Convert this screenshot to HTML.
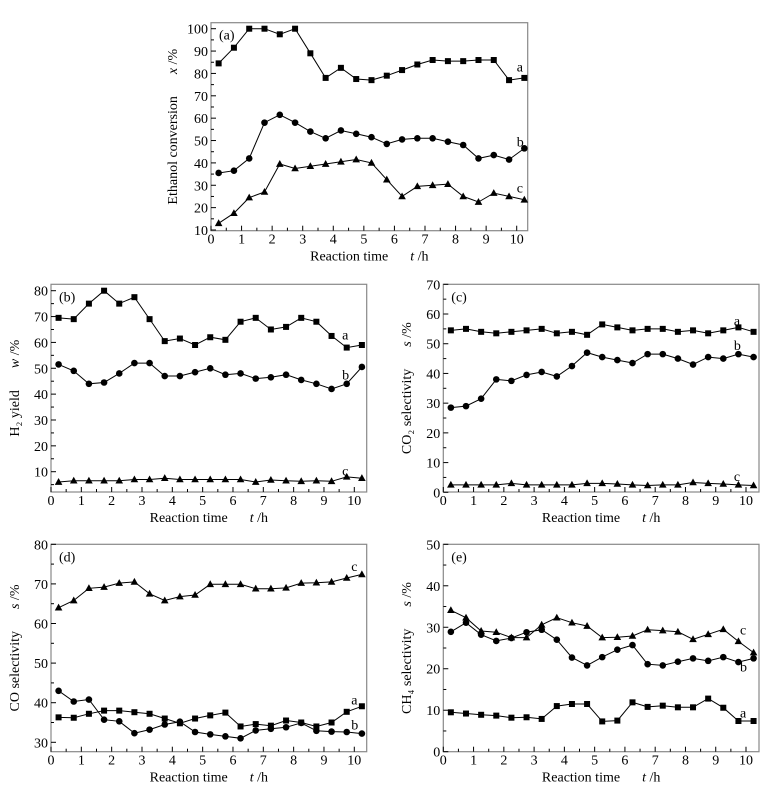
<!DOCTYPE html>
<html><head><meta charset="utf-8"><style>
html,body{margin:0;padding:0;background:#fff;}
svg{display:block;font-family:"Liberation Serif",serif;}
</style></head><body>
<svg id="fig" width="780" height="792" viewBox="0 0 780 792" xmlns="http://www.w3.org/2000/svg"></svg>
<script>
const times = [0.25,0.75,1.25,1.75,2.25,2.75,3.25,3.75,4.25,4.75,5.25,5.75,6.25,6.75,7.25,7.75,8.25,8.75,9.25,9.75,10.25];
const xTicks = [0,1,2,3,4,5,6,7,8,9,10];
const convA = [84.5,91.5,100,100,97.5,100,89,78,82.5,77.5,77,79,81.5,84,86,85.5,85.5,86,86,77,78];
const convB = [35.5,36.5,42,58,61.5,58,54,51,54.5,53,51.5,48.5,50.5,51,51,49.5,48,42,43.5,41.5,46.5];
const convC = [13,17.5,24.5,27,39.5,37.5,38.5,39.5,40.5,41.5,40,32.5,25,29.5,30,30.5,25,22.5,26.5,25,23.5];
const h2A = [69.5,69,75,80,75,77.5,69,60.5,61.5,59,62,61,68,69.5,65,66,69.5,68,62.5,58,59];
const h2B = [51.5,49,44,44.5,48,52,52,47,47,48.5,50,47.5,48,46,46.5,47.5,45.5,44,42,44,50.5];
const h2C = [6,6.5,6.5,6.5,6.5,7,7,7.5,7,7,7,7,7,6,6.8,6.5,6.3,6.5,6.3,8,7.5];
const co2A = [54.5,55,54,53.5,54,54.5,55,53.5,54,53,56.5,55.5,54.5,55,55,54,54.5,53.5,54.5,55.5,54];
const co2B = [28.5,29,31.5,38,37.5,39.5,40.5,39,42.5,47,45.5,44.5,43.5,46.5,46.5,45,43,45.5,45,46.5,45.5];
const co2C = [2.5,2.5,2.5,2.5,3,2.5,2.5,2.5,2.5,3,3,2.8,2.5,2.3,2.5,2.5,3.3,3,2.8,2.5,2.3];
const coA = [36.3,36.2,37.2,38,38,37.6,37.2,36,34.8,36,36.8,37.5,34,34.6,34.2,35.5,35,34,35,37.7,39.1];
const coB = [43,40.3,40.8,35.7,35.3,32.3,33.2,34.5,35.2,32.6,32,31.5,31,33,33.4,33.8,34.9,32.9,32.7,32.6,32.2];
const coC = [64,65.8,68.9,69.2,70.2,70.5,67.5,65.8,66.8,67.2,69.9,69.9,69.9,68.8,68.8,69,70.2,70.3,70.5,71.5,72.4];
const ch4A = [9.5,9.2,8.9,8.7,8.2,8.3,7.9,11,11.5,11.5,7.3,7.5,11.9,10.8,11.1,10.7,10.7,12.8,10.6,7.4,7.4];
const ch4B = [28.9,31.1,28.2,26.7,27.4,28.8,29.4,27,22.7,20.8,22.8,24.6,25.7,21.1,20.8,21.7,22.5,21.9,22.8,21.6,22.5];
const ch4C = [34.1,32.3,29.1,28.8,27.5,27.5,30.6,32.3,31.1,30.3,27.5,27.6,27.9,29.4,29.2,28.9,27.1,28.3,29.5,26.6,23.9];
const ticksA = [10,20,30,40,50,60,70,80,90,100];
const ticksB = [10,20,30,40,50,60,70,80];
const ticksC = [0,10,20,30,40,50,60,70];
const ticksD = [30,40,50,60,70,80];
const ticksE = [0,10,20,30,40,50];

const NS="http://www.w3.org/2000/svg";
const svg=document.getElementById('fig');
function mk(tag,attrs,parent){const e=document.createElementNS(NS,tag);for(const k in attrs)e.setAttribute(k,attrs[k]);(parent||svg).appendChild(e);return e;}

const panels=[
 {id:'a',L:211,R:527.7,T:22.7,B:230.7,x0:211,x10:516.7,yLo:10,yHi:100,pLo:230,pHi:28.7,ticks:ticksA,minor:5,
  series:[[convA,'sq','a',10.0,83],[convB,'ci','b',10.0,49.5],[convC,'tr','c',10.0,29]],
  ytitle:'Ethanol conversion',yunit:'x /%',ytx:172,ytt:'(a)'},
 {id:'b',L:51,R:366.7,T:284.3,B:492,x0:51,x10:354.3,yLo:10,yHi:80,pLo:471.7,pHi:290.7,ticks:ticksB,minor:5,
  series:[[h2A,'sq','a',9.6,63],[h2B,'ci','b',9.6,47.5],[h2C,'tr','c',9.6,10.5]],
  ytitle:'H\u2082 yield',yunit:'w /%',ytx:14,ytt:'(b)'},
 {id:'c',L:443.3,R:759,T:284.3,B:492,x0:443.3,x10:746,yLo:0,yHi:70,pLo:492.3,pHi:284.3,ticks:ticksC,minor:5,
  series:[[co2A,'sq','a',9.6,57.8],[co2B,'ci','b',9.6,49.5],[co2C,'tr','c',9.6,5.5]],
  ytitle:'CO\u2082 selectivity',yunit:'s /%',ytx:406,ytt:'(c)'},
 {id:'d',L:51,R:366.7,T:544.3,B:751.7,x0:51,x10:354.3,yLo:30,yHi:80,pLo:742.3,pHi:544.3,ticks:ticksD,minor:5,
  series:[[coA,'sq','a',9.9,40.8],[coB,'ci','b',9.9,34.5],[coC,'tr','c',9.9,74.5]],
  ytitle:'CO selectivity',yunit:'s /%',ytx:14,ytt:'(d)'},
 {id:'e',L:443.3,R:759,T:544.3,B:751.7,x0:443.3,x10:746,yLo:0,yHi:50,pLo:751.7,pHi:544.3,ticks:ticksE,minor:5,
  series:[[ch4A,'sq','a',9.8,9.5],[ch4B,'ci','b',9.8,20.5],[ch4C,'tr','c',9.8,29.5]],
  ytitle:'CH\u2084 selectivity',yunit:'s /%',ytx:406,ytt:'(e)'}
];

panels.forEach(p=>{
 const g=mk('g',{});
 
 
 const sx=v=>p.x0+(p.x10-p.x0)*v/10;
 const sy=v=>p.pLo+(p.pHi-p.pLo)*(v-p.yLo)/(p.yHi-p.yLo);
 const box=mk('rect',{x:p.L,y:p.T,width:p.R-p.L,height:p.B-p.T,fill:'none',stroke:'#888','stroke-width':1.2},g);
 
 
 for(let v=0;v<=10.3;v+=0.5){const X=sx(v);const major=Math.abs(v-Math.round(v))<1e-6;
  mk('line',{x1:X,x2:X,y1:p.B,y2:p.B-(major?5:3),stroke:'#000','stroke-width':1},g);}
 xTicks.forEach(v=>{const t=mk('text',{x:sx(v),y:p.B+13,'text-anchor':'middle','font-size':14},g);t.textContent=v;
  });
 for(let v=p.yLo-10;v<=p.yHi;v+=p.minor){const Y=sy(v);if(Y>p.B+0.5||Y<p.T-0.5)continue;const major=v%10===0;
  mk('line',{x1:p.L,x2:p.L+(major?5:3),y1:Y,y2:Y,stroke:'#000','stroke-width':1},g);}
 p.ticks.forEach(v=>{const t=mk('text',{x:p.L-3,y:sy(v)+5,'text-anchor':'end','font-size':14},g);t.textContent=v;
  });
 const tg=mk('text',{x:p.L+8,y:p.T+17,'font-size':14},g);tg.textContent=p.ytt;
 
 const xt=mk('text',{x:(p.L+p.R)/2,y:p.B+30,'text-anchor':'middle','font-size':14},g);
 xt.innerHTML='Reaction time<tspan dx="22" font-style="italic">t</tspan> /h';
 
 const cy=(p.T+p.B)/2;
 const yt=mk('text',{x:p.ytx,y:cy,'text-anchor':'middle','font-size':14,transform:`rotate(-90 ${p.ytx} ${cy})`,dy:5},g);
 yt.innerHTML=p.ytitle+'<tspan dx="22" font-style="italic">'+p.yunit.split(' ')[0]+'</tspan> '+p.yunit.split(' ')[1];
 
 p.series.forEach(s=>{
  const vals=s[0];
  const pts=times.map((t,i)=>sx(t).toFixed(1)+','+sy(vals[i]).toFixed(1)).join(' ');
  const pl=mk('polyline',{points:pts,fill:'none',stroke:'#000','stroke-width':1},g);
  
  
  times.forEach((t,i)=>{const X=sx(t),Y=sy(vals[i]);let m;
   if(s[1]==='sq')m=mk('rect',{x:X-3,y:Y-3,width:6,height:6,fill:'#000'},g);
   else if(s[1]==='ci')m=mk('circle',{cx:X,cy:Y,r:3.3,fill:'#000'},g);
   else m=mk('polygon',{points:`${X},${Y-4} ${X-3.8},${Y+2.8} ${X+3.8},${Y+2.8}`,fill:'#000'},g);
   
   });
  const lb=mk('text',{x:sx(s[3]),y:sy(s[4])+5,'font-size':14},g);lb.textContent=s[2];
  
 });
});
</script>
</body></html>
